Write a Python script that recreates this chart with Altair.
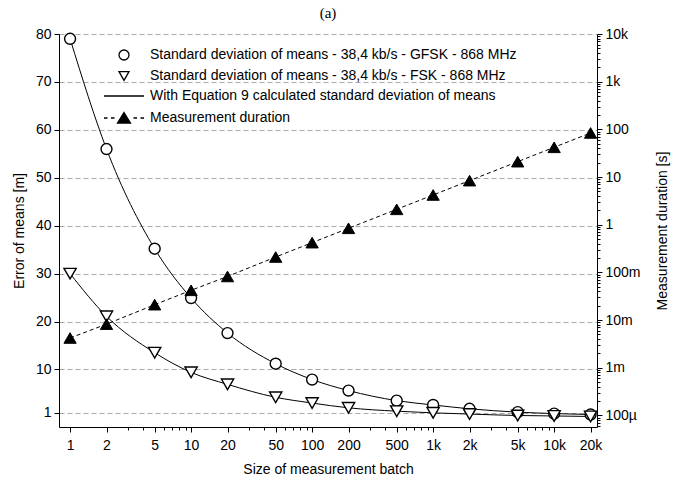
import altair as alt
import pandas as pd

# ---- data ----
batch = [1, 2, 5, 10, 20, 50, 100, 200, 500, 1000, 2000, 5000, 10000, 20000]
gfsk_err = [79.0, 56.0, 35.2, 24.9, 17.6, 11.2, 7.9, 5.6, 3.5, 2.6, 1.8, 1.1, 0.8, 0.6]
fsk_err = [30.0, 21.1, 13.5, 9.4, 6.9, 4.2, 3.0, 2.0, 1.3, 0.95, 0.7, 0.4, 0.3, 0.2]
duration_s = [0.0042, 0.0082, 0.021, 0.042, 0.082, 0.21, 0.42, 0.84, 2.1, 4.2, 8.4, 21, 42, 84]

L_GFSK = "Standard deviation of means - 38,4 kb/s - GFSK - 868 MHz"
L_FSK = "Standard deviation of means - 38,4 kb/s - FSK - 868 MHz"
L_EQ = "With Equation 9 calculated standard deviation of means"
L_DUR = "Measurement duration"
legend_labels = [L_GFSK, L_FSK, L_EQ, L_DUR]

x_ticks = batch
left_ticks = [1, 10, 20, 30, 40, 50, 60, 70, 80]
right_ticks = [1e-4, 1e-3, 1e-2, 1e-1, 1, 10, 100, 1000, 10000]

x_domain = [0.81, 22600]
left_domain = [-2, 80]
right_domain = [5.7e-5, 1e4]

x_minor = [m * 10 ** d for d in range(5) for m in (3, 4, 6, 7, 8, 9)
           if x_domain[0] <= m * 10 ** d <= x_domain[1]]
right_minor = [m * 10.0 ** d for d in range(-5, 4) for m in range(2, 10)
               if right_domain[0] <= m * 10.0 ** d <= right_domain[1]]

df_err = pd.DataFrame({
    "batch": batch * 2,
    "err": gfsk_err + fsk_err,
    "series": [L_GFSK] * len(batch) + [L_FSK] * len(batch),
})
df_dur = pd.DataFrame({"batch": batch, "dur": duration_s, "series": L_DUR})

FONT = "Liberation Sans"

dur_path = ("M-4,0L-3.3,0M-2.6,0L-1.9,0M1.9,0L2.6,0M3.3,0L4,0"
            "M0,-1.1L1.3,1L-1.3,1Z")
shape_scale = alt.Scale(domain=legend_labels,
                        range=["circle", "triangle-down", "M-4,0L4,0", dur_path])
fill_scale = alt.Scale(domain=legend_labels, range=["white", "white", "white", "black"])
stroke_scale = alt.Scale(domain=legend_labels, range=["black", "black", "black", "black"])
legend = alt.Legend(
    title=None, orient="none", legendX=58, legendY=14, padding=0,
    labelFont=FONT, labelFontSize=14, labelColor="black", labelLimit=0,
    labelOffset=19, symbolSize=100, symbolStrokeWidth=1.3,
    symbolOpacity=1, rowPadding=6,
)

x_major_axis = alt.Axis(values=x_ticks, format="~s", title="Size of measurement batch",
                        tickSize=5, labelPadding=6, titlePadding=10, grid=False,
                        labelFlush=False, labelOverlap=False)
x_minor_axis = alt.Axis(values=x_minor, orient="bottom", labels=False, tickSize=3,
                        domain=False, grid=False, title=None)
x_major = alt.X("batch:Q", scale=alt.Scale(type="log", domain=x_domain, nice=False),
                axis=x_major_axis)
x_minor_enc = alt.X("batch:Q", scale=alt.Scale(type="log", domain=x_domain, nice=False),
                    axis=x_minor_axis)

left_axis = alt.Axis(values=left_ticks, format="d", title="Error of means [m]",
                     tickSize=5, labelPadding=3, titlePadding=9, grid=True,
                     gridDash=[5, 3], gridColor="#a8a8a8", labelFlush=False)
y_left = alt.Y("err:Q", scale=alt.Scale(domain=left_domain, nice=False, zero=False),
               axis=left_axis)

right_axis = alt.Axis(values=right_ticks, format="~s", orient="right",
                      title="Measurement duration [s]", titleAngle=270,
                      tickSize=5, labelPadding=3, titlePadding=29, grid=False,
                      labelFlush=False)
right_minor_axis = alt.Axis(values=right_minor, orient="right", labels=False,
                            tickSize=3, domain=False, grid=False, title=None)
r_scale = alt.Scale(type="log", domain=right_domain, nice=False)

left_lines = alt.Chart(df_err).mark_line(
    color="black", strokeWidth=1, interpolate="monotone"
).encode(x=x_major, y=y_left, detail="series:N")

shape_enc = alt.Shape("series:N", scale=shape_scale, legend=legend)
fill_enc = alt.Fill("series:N", scale=fill_scale, legend=legend)
stroke_enc = alt.Stroke("series:N", scale=stroke_scale, legend=legend)

gfsk_pts = alt.Chart(df_err).transform_filter(
    alt.datum.series == L_GFSK
).mark_point(strokeWidth=1.4, size=120, opacity=1).encode(
    x=x_major, y=y_left, shape=shape_enc, fill=fill_enc, stroke=stroke_enc)

fsk_pts = alt.Chart(df_err).transform_filter(
    alt.datum.series == L_FSK
).mark_point(strokeWidth=1.4, size=150, opacity=1).encode(
    x=x_major, y=y_left, shape=shape_enc, fill=fill_enc, stroke=stroke_enc)

dur_line = alt.Chart(df_dur).mark_line(
    color="black", strokeWidth=1, strokeDash=[4, 3]
).encode(x=x_minor_enc, y=alt.Y("dur:Q", scale=r_scale, axis=right_minor_axis))

dur_pts = alt.Chart(df_dur).mark_point(
    shape="triangle-up", fill="black", stroke="black", strokeWidth=1, size=150, opacity=1
).encode(x=x_minor_enc, y=alt.Y("dur:Q", scale=r_scale, axis=right_axis))

left = alt.layer(left_lines, gfsk_pts, fsk_pts)
right = alt.layer(dur_line, dur_pts).resolve_axis(y="independent")

chart = alt.layer(left, right).resolve_scale(y="independent").resolve_axis(
    x="independent"
).properties(
    width=538, height=393,
    background="white",
    autosize=alt.AutoSizeParams(type="none"),
    padding={"left": 59, "top": 34, "right": 91, "bottom": 57},
    title=alt.TitleParams("(a)", font="Liberation Serif", fontSize=15,
                          fontWeight="normal", color="black", anchor="middle",
                          frame="group", offset=6),
).configure_view(stroke=None).configure_axis(
    labelFont=FONT, labelFontSize=14, labelColor="black",
    titleFont=FONT, titleFontSize=14, titleFontWeight="normal", titleColor="black",
    domainColor="black", tickColor="black", domainWidth=1, tickWidth=1,
)

chart.save("out.html", embed_options={"renderer": "svg", "actions": False})
